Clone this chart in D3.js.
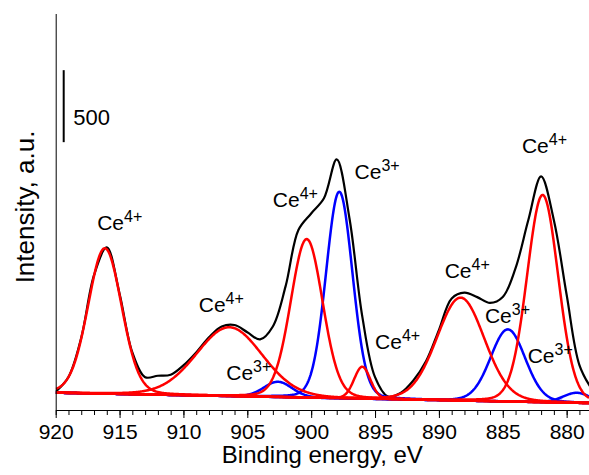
<!DOCTYPE html>
<html>
<head>
<meta charset="utf-8">
<script src="https://cdn.jsdelivr.net/npm/d3@7"></script>
<style>
  body { margin: 0; background: #fff; }
  svg text { font-family: "Liberation Sans", Arial, sans-serif; fill: #000; }
</style>
</head>
<body>
<div id="chart"></div>
<script>
// measured Ce 3d spectrum, counts every 1 eV from 920 down to 878
let dataEnergy = d3.range(920, 877, -1)
let dataCounts = [127, 229, 502, 936, 1130, 808, 400, 228, 238, 245,
  310, 400, 505, 580, 590, 540, 490, 580, 860, 1250,
  1365, 1470, 1740, 1330, 650, 228, 94, 118, 205, 340,
  555, 775, 815, 784, 744, 785, 985, 1319, 1622, 1318,
  800, 312, 140]

// fit components: position (eV), height above background (counts), FWHM (eV)
let peakCenter = [916.15, 906.4, 902.6, 900.35, 897.8, 896.0, 888.3, 884.6, 881.88, 879.2]
let peakHeight = [1010, 478, 106, 1101, 1434, 222, 715, 501, 1439, 70]
let peakFwhm = [3.1, 6.1, 2.6, 2.95, 2.45, 1.5, 4.4, 3.2, 2.9, 2.5]
let peakState = ['Ce4+', 'Ce4+', 'Ce3+', 'Ce4+', 'Ce3+', 'Ce4+', 'Ce4+', 'Ce3+', 'Ce4+', 'Ce3+']
let lorentzPart = 0.1

// background (linear) end points
let bgEnergy = [920, 878.25]
let bgCounts = [120, 48]

// where the Ce labels sit, in energy / counts
let labelEnergy = [916.75, 908.8, 906.65, 903.0, 896.6, 895.0, 889.55, 886.4, 883.5, 883.05]
let labelCounts = [1250, 680, 210, 1410, 1605, 425, 915, 605, 1785, 325]

let xTicks = [920, 915, 910, 905, 900, 895, 890, 885, 880]
let xMinorTicks = d3.range(879, 921, 1)
let scaleBar = [1860, 2360]

let width = 589,
  height = 475,
  stateColor = {'Ce4+': '#ff0000', 'Ce3+': '#0000ff'}

let x = d3.scaleLinear()
  .domain([920, 878.25])
  .range([55.7, 589])

let y = d3.scaleLinear()
  .domain([0, 2750])
  .range([410, 14])

let bg = d3.scaleLinear()
  .domain(bgEnergy)
  .range(bgCounts)

let grid = d3.range(878.25, 920.001, 0.05)

// pseudo-Voigt line shape of component i
function profile(i, e) {
  let t = (e - peakCenter[i]) / peakFwhm[i]
  let g = Math.exp(-4 * Math.LN2 * t * t)
  let l = 1 / (1 + 4 * t * t)
  return peakHeight[i] * ((1 - lorentzPart) * g + lorentzPart * l)
}

let svg = d3.select('#chart').append('svg')
  .attr('width', width)
  .attr('height', height)

svg.append('defs').append('clipPath')
  .attr('id', 'clip')
  .append('rect')
  .attr('x', x(920))
  .attr('y', 0)
  .attr('width', x.range()[1] - x.range()[0])
  .attr('height', y(0))

let line = d3.line()
  .x(function (d) { return x(d[0]) })
  .y(function (d) { return y(d[1]) })

let plot = svg.append('g')
  .attr('clip-path', 'url(#clip)')

// measured spectrum
plot.append('path')
  .datum(dataEnergy.map(function (e, i) { return [e, dataCounts[i]] }))
  .attr('d', line.curve(d3.curveCatmullRom.alpha(0.5)))
  .attr('fill', 'none')
  .attr('stroke', '#000')
  .attr('stroke-width', 2.2)

line.curve(d3.curveLinear)

// components, blue first so red sits on top
let order = d3.range(peakCenter.length).sort(function (a, b) {
  return (peakState[a] === 'Ce4+') - (peakState[b] === 'Ce4+')
})

plot.append('g').selectAll('.comp')
  .data(order)
  .enter().append('path')
  .attr('class', 'comp')
  .attr('d', function (i) {
    return line(grid.map(function (e) { return [e, bg(e) + profile(i, e)] }))
  })
  .attr('fill', 'none')
  .attr('stroke', function (i) { return stateColor[peakState[i]] })
  .attr('stroke-width', 2.5)

// axes
let minor = svg.append('g')
  .attr('transform', 'translate(0,' + y(0) + ')')
  .call(d3.axisBottom(x).tickValues(xMinorTicks).tickSize(5).tickSizeOuter(0).tickFormat(''))
minor.select('.domain').remove()

let xAxis = svg.append('g')
  .attr('transform', 'translate(0,' + y(0) + ')')
  .call(d3.axisBottom(x).tickValues(xTicks).tickSize(8).tickSizeOuter(0).tickPadding(6).tickFormat(d3.format('d')))
xAxis.selectAll('text')
  .attr('font-size', '21px')
  .attr('font-family', '"Liberation Sans", Arial, sans-serif')

svg.append('line')
  .attr('x1', x(920) + 0.5)
  .attr('x2', x(920) + 0.5)
  .attr('y1', y(2750))
  .attr('y2', y(0))
  .attr('stroke', '#000')

svg.append('text')
  .attr('x', (x.range()[0] + x.range()[1]) / 2)
  .attr('y', 462.7)
  .attr('text-anchor', 'middle')
  .attr('font-size', '24px')
  .text('Binding energy, eV')

svg.append('text')
  .attr('transform', 'translate(34,207) rotate(-90)')
  .attr('text-anchor', 'middle')
  .attr('font-size', '26px')
  .text('Intensity, a.u.')

// 500 counts scale bar
svg.append('line')
  .attr('x1', x(920) + 8)
  .attr('x2', x(920) + 8)
  .attr('y1', y(scaleBar[0]))
  .attr('y2', y(scaleBar[1]))
  .attr('stroke', '#000')
  .attr('stroke-width', 2)

svg.append('text')
  .attr('x', x(920) + 17.5)
  .attr('y', y(d3.mean(scaleBar)) + 19)
  .attr('font-size', '22px')
  .text(scaleBar[1] - scaleBar[0])

// Ce labels
let labels = svg.append('g').selectAll('.ce-label')
  .data(peakState)
  .enter().append('text')
  .attr('class', 'ce-label')
  .attr('x', function (d, i) { return x(labelEnergy[i]) })
  .attr('y', function (d, i) { return y(labelCounts[i]) })
  .attr('font-size', '21px')

labels.append('tspan')
  .text(function (d) { return d.slice(0, 2) })

labels.append('tspan')
  .attr('dy', -8)
  .attr('font-size', '16px')
  .text(function (d) { return d.slice(2) })
</script>
</body>
</html>
